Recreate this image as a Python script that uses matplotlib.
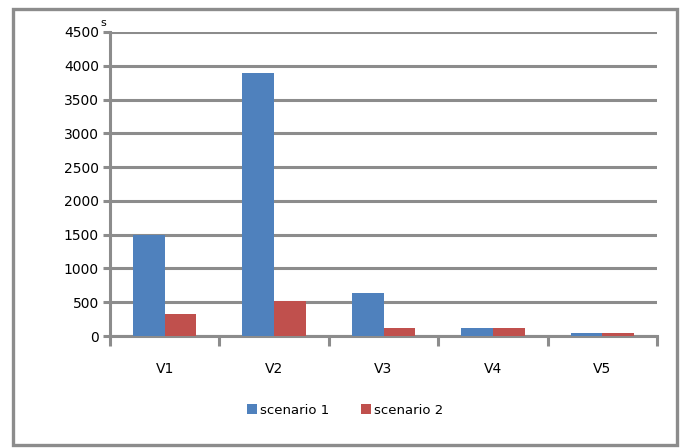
import numpy as np
import matplotlib
matplotlib.use('Agg')
import matplotlib.pyplot as plt
from matplotlib.patches import Rectangle

categories = ['V1', 'V2', 'V3', 'V4', 'V5']
scenario_1 = [1500, 3900, 630, 125, 45]
scenario_2 = [330, 520, 125, 125, 45]
y_ticks = list(range(0, 5000, 500))

blue = '#4F81BD'
red = '#C0504D'
grey = '#8C8C8C'

fig = plt.figure(figsize=(6.83, 4.48), dpi=100)
ax = fig.add_axes([110/683, 1 - 336/448, (657 - 110)/683, (336 - 32)/448])

# outer frame round the whole chart
fig.patches.append(Rectangle((13/683, 1 - 445/448), (677 - 13)/683, (445 - 9)/448,
                             transform=fig.transFigure, fill=False,
                             edgecolor=grey, linewidth=2.4))

x = np.arange(len(categories))
w = 0.29
ax.bar(x - w/2, scenario_1, w, color=blue, label='scenario 1', zorder=3)
ax.bar(x + w/2, scenario_2, w, color=red, label='scenario 2', zorder=3)

ax.set_xlim(-0.5, len(categories) - 0.5)
ax.set_ylim(0, 4500)
ax.set_yticks(y_ticks)
ax.yaxis.grid(True, color=grey, linewidth=2.2, zorder=0)
ax.set_axisbelow(True)

# category boundaries get the tick marks, labels sit at the centres
ax.set_xticks(np.arange(-0.5, len(categories), 1.0))
ax.set_xticklabels([])
ax.set_xticks(x, minor=True)
ax.set_xticklabels(categories, minor=True)
ax.tick_params(axis='x', which='major', length=7, width=2.2, color=grey, direction='out')
ax.tick_params(axis='x', which='minor', length=0, pad=19, labelsize=10)
ax.tick_params(axis='y', length=5, width=2.2, color=grey, direction='out', pad=3, labelsize=10)

for s in ['top', 'right']:
    ax.spines[s].set_visible(False)
for s in ['left', 'bottom']:
    ax.spines[s].set_color(grey)
    ax.spines[s].set_linewidth(2.2)

ax.text(-0.018, 1.03, 's', transform=ax.transAxes, fontsize=8,
        ha='left', va='center')

fig.legend(loc='center', bbox_to_anchor=(345/683, 1 - 410/448), ncol=2,
           frameon=False, fontsize=9.5, handlelength=0.8, handleheight=0.8,
           handletextpad=0.2, columnspacing=2.4)

fig.savefig('out.png', dpi=100)
